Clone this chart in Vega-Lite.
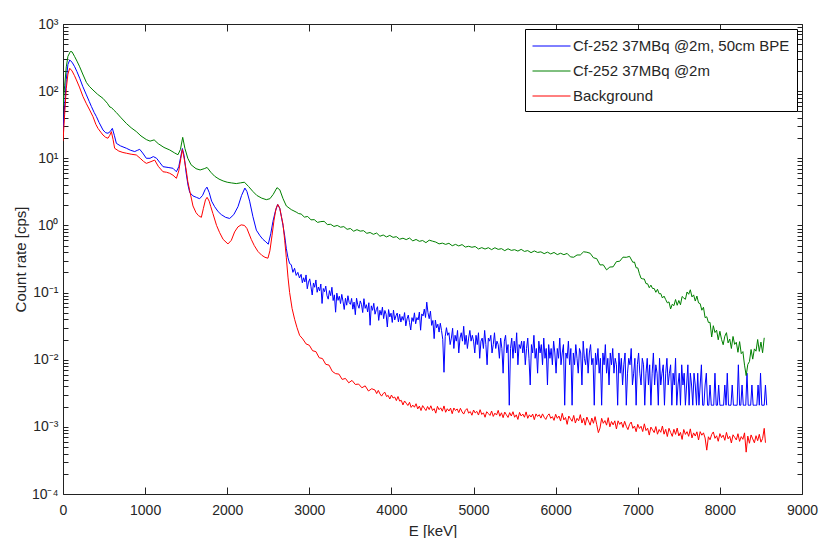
{
"$schema": "https://vega.github.io/schema/vega-lite/v6.json",
"width": 739, "height": 470,
"autosize": {"type": "none"},
"padding": {"left": 63, "top": 24, "right": 19, "bottom": 44},
"background": "white",
"config": {"view": {"stroke": null}, "font": "Liberation Sans"},
"datasets": {
"names": [{"k":"b","series":"Cf-252 37MBq @2m, 50cm BPE"},{"k":"g","series":"Cf-252 37MBq @2m"},{"k":"r","series":"Background"}],
"spec": [
{"k":"b","E":0,"v":25},{"k":"b","E":20,"v":60},{"k":"b","E":40,"v":150},{"k":"b","E":60,"v":250},{"k":"b","E":82,"v":291},{"k":"b","E":110,"v":270},{"k":"b","E":142,"v":231},{"k":"b","E":170,"v":195},{"k":"b","E":204,"v":155},{"k":"b","E":240,"v":118},{"k":"b","E":285,"v":88},{"k":"b","E":320,"v":70},{"k":"b","E":346,"v":59},{"k":"b","E":380,"v":48},{"k":"b","E":406,"v":42},{"k":"b","E":440,"v":34},{"k":"b","E":487,"v":26.4},{"k":"b","E":520,"v":24},{"k":"b","E":548,"v":23.6},{"k":"b","E":575,"v":25},{"k":"b","E":601,"v":27.9},{"k":"b","E":625,"v":22},{"k":"b","E":650,"v":16.7},{"k":"b","E":700,"v":15.3},{"k":"b","E":772,"v":14.1},{"k":"b","E":820,"v":13.2},{"k":"b","E":873,"v":12.6},{"k":"b","E":910,"v":13.2},{"k":"b","E":934,"v":13.6},{"k":"b","E":970,"v":12},{"k":"b","E":1015,"v":10},{"k":"b","E":1060,"v":10},{"k":"b","E":1100,"v":10.6},{"k":"b","E":1140,"v":10},{"k":"b","E":1180,"v":8.6},{"k":"b","E":1218,"v":7.5},{"k":"b","E":1280,"v":7.3},{"k":"b","E":1339,"v":7.1},{"k":"b","E":1381,"v":6.3},{"k":"b","E":1410,"v":7.5},{"k":"b","E":1430,"v":10},{"k":"b","E":1454,"v":14},{"k":"b","E":1475,"v":11},{"k":"b","E":1500,"v":6},{"k":"b","E":1522,"v":4.0},{"k":"b","E":1543,"v":3.1},{"k":"b","E":1583,"v":2.75},{"k":"b","E":1624,"v":2.62},{"k":"b","E":1664,"v":2.5},{"k":"b","E":1700,"v":2.8},{"k":"b","E":1730,"v":3.4},{"k":"b","E":1753,"v":3.72},{"k":"b","E":1780,"v":3.1},{"k":"b","E":1810,"v":2.3},{"k":"b","E":1847,"v":1.9},{"k":"b","E":1890,"v":1.6},{"k":"b","E":1928,"v":1.45},{"k":"b","E":1980,"v":1.32},{"k":"b","E":2030,"v":1.27},{"k":"b","E":2080,"v":1.45},{"k":"b","E":2131,"v":1.9},{"k":"b","E":2175,"v":2.8},{"k":"b","E":2215,"v":3.6},{"k":"b","E":2240,"v":3.2},{"k":"b","E":2273,"v":2.3},{"k":"b","E":2313,"v":1.35},{"k":"b","E":2355,"v":0.85},{"k":"b","E":2400,"v":0.7},{"k":"b","E":2435,"v":0.62},{"k":"b","E":2470,"v":0.57},{"k":"b","E":2500,"v":0.525},{"k":"b","E":2530,"v":0.75},{"k":"b","E":2557,"v":1.15},{"k":"b","E":2585,"v":1.6},{"k":"b","E":2614,"v":2.05},{"k":"b","E":2640,"v":1.8},{"k":"b","E":2660,"v":1.35},{"k":"b","E":2679,"v":1.0},{"k":"b","E":2700,"v":0.7},{"k":"b","E":2720,"v":0.45},{"k":"b","E":2740,"v":0.33},{"k":"b","E":2760,"v":0.27},{"k":"b","E":2780,"v":0.26},{"k":"b","E":2800,"v":0.2},{"k":"b","E":2820,"v":0.23},{"k":"b","E":2840,"v":0.18},{"k":"b","E":2860,"v":0.2},{"k":"b","E":2880,"v":0.165},
{"k":"b","E":2900,"v":0.187},{"k":"b","E":2915,"v":0.14},{"k":"b","E":2930,"v":0.166},{"k":"b","E":2945,"v":0.144},{"k":"b","E":2960,"v":0.183},{"k":"b","E":2975,"v":0.114},{"k":"b","E":2990,"v":0.143},{"k":"b","E":3005,"v":0.16},{"k":"b","E":3020,"v":0.122},{"k":"b","E":3035,"v":0.092},{"k":"b","E":3050,"v":0.139},{"k":"b","E":3065,"v":0.12},{"k":"b","E":3080,"v":0.154},{"k":"b","E":3095,"v":0.101},{"k":"b","E":3110,"v":0.121},{"k":"b","E":3125,"v":0.106},{"k":"b","E":3140,"v":0.134},{"k":"b","E":3155,"v":0.0688},{"k":"b","E":3170,"v":0.115},{"k":"b","E":3185,"v":0.103},{"k":"b","E":3200,"v":0.125},{"k":"b","E":3215,"v":0.0898},{"k":"b","E":3230,"v":0.0798},{"k":"b","E":3245,"v":0.107},{"k":"b","E":3260,"v":0.09},{"k":"b","E":3275,"v":0.12},{"k":"b","E":3290,"v":0.0761},{"k":"b","E":3305,"v":0.0925},{"k":"b","E":3320,"v":0.051},{"k":"b","E":3335,"v":0.0982},{"k":"b","E":3350,"v":0.0766},{"k":"b","E":3365,"v":0.0883},{"k":"b","E":3380,"v":0.0686},{"k":"b","E":3395,"v":0.094},{"k":"b","E":3410,"v":0.0743},{"k":"b","E":3425,"v":0.056},{"k":"b","E":3440,"v":0.0823},{"k":"b","E":3455,"v":0.0649},{"k":"b","E":3470,"v":0.0897},{"k":"b","E":3485,"v":0.071},{"k":"b","E":3500,"v":0.0668},{"k":"b","E":3515,"v":0.0818},{"k":"b","E":3530,"v":0.0566},{"k":"b","E":3545,"v":0.0722},{"k":"b","E":3560,"v":0.0468},{"k":"b","E":3575,"v":0.0825},{"k":"b","E":3590,"v":0.0656},{"k":"b","E":3605,"v":0.0584},{"k":"b","E":3620,"v":0.0751},{"k":"b","E":3635,"v":0.0667},{"k":"b","E":3650,"v":0.0504},{"k":"b","E":3665,"v":0.0811},{"k":"b","E":3680,"v":0.0582},{"k":"b","E":3695,"v":0.066},{"k":"b","E":3710,"v":0.0515},{"k":"b","E":3725,"v":0.0706},{"k":"b","E":3740,"v":0.0326},{"k":"b","E":3755,"v":0.0635},{"k":"b","E":3770,"v":0.0544},{"k":"b","E":3785,"v":0.0692},{"k":"b","E":3800,"v":0.0476},{"k":"b","E":3815,"v":0.0556},{"k":"b","E":3830,"v":0.0616},{"k":"b","E":3845,"v":0.0385},{"k":"b","E":3860,"v":0.0544},{"k":"b","E":3875,"v":0.0461},{"k":"b","E":3890,"v":0.0606},{"k":"b","E":3905,"v":0.0409},{"k":"b","E":3920,"v":0.0541},{"k":"b","E":3935,"v":0.0476},{"k":"b","E":3950,"v":0.0307},{"k":"b","E":3965,"v":0.0558},{"k":"b","E":3980,"v":0.0434},{"k":"b","E":3995,"v":0.0493},{"k":"b","E":4010,"v":0.0359},{"k":"b","E":4025,"v":0.0548},{"k":"b","E":4040,"v":0.0391},{"k":"b","E":4055,"v":0.0451},{"k":"b","E":4070,"v":0.0495},{"k":"b","E":4085,"v":0.0366},{"k":"b","E":4100,"v":0.0477},{"k":"b","E":4115,"v":0.0364},{"k":"b","E":4130,"v":0.044},{"k":"b","E":4145,"v":0.0387},{"k":"b","E":4160,"v":0.0503},{"k":"b","E":4175,"v":0.0319},{"k":"b","E":4190,"v":0.0405},{"k":"b","E":4205,"v":0.0462},{"k":"b","E":4220,"v":0.0358},{"k":"b","E":4235,"v":0.0277},{"k":"b","E":4250,"v":0.0423},{"k":"b","E":4265,"v":0.0371},{"k":"b","E":4280,"v":0.0499},{"k":"b","E":4295,"v":0.0343},{"k":"b","E":4310,"v":0.0424},{"k":"b","E":4325,"v":0.0391},{"k":"b","E":4340,"v":0.0512},{"k":"b","E":4355,"v":0.0275},{"k":"b","E":4370,"v":0.0481},{"k":"b","E":4385,"v":0.0449},{"k":"b","E":4400,"v":0.0568},{"k":"b","E":4415,"v":0.0426},{"k":"b","E":4430,"v":0.072},{"k":"b","E":4445,"v":0.0502},{"k":"b","E":4460,"v":0.0408},{"k":"b","E":4475,"v":0.0529},{"k":"b","E":4490,"v":0.0325},{"k":"b","E":4505,"v":0.0384},{"k":"b","E":4520,"v":0.0206},{"k":"b","E":4535,"v":0.0389},{"k":"b","E":4550,"v":0.0299},{"k":"b","E":4565,"v":0.0338},{"k":"b","E":4580,"v":0.0258},{"k":"b","E":4595,"v":0.0349},{"k":"b","E":4610,"v":0.0271},{"k":"b","E":4625,"v":0.0201},{"k":"b","E":4640,"v":0.0065},{"k":"b","E":4655,"v":0.0223},{"k":"b","E":4670,"v":0.03},{"k":"b","E":4685,"v":0.0231},
{"k":"b","E":4700,"v":0.0252},{"k":"b","E":4715,"v":0.0168},{"k":"b","E":4730,"v":0.021},{"k":"b","E":4745,"v":0.0294},{"k":"b","E":4760,"v":0.0147},{"k":"b","E":4775,"v":0.0231},{"k":"b","E":4790,"v":0.0189},{"k":"b","E":4805,"v":0.0273},{"k":"b","E":4820,"v":0.0126},{"k":"b","E":4835,"v":0.021},{"k":"b","E":4850,"v":0.0252},{"k":"b","E":4865,"v":0.0189},{"k":"b","E":4880,"v":0.0315},{"k":"b","E":4895,"v":0.0168},{"k":"b","E":4910,"v":0.0231},{"k":"b","E":4925,"v":0.0147},{"k":"b","E":4940,"v":0.021},{"k":"b","E":4955,"v":0.0273},{"k":"b","E":4970,"v":0.0189},{"k":"b","E":4985,"v":0.0231},
{"k":"b","E":5000,"v":0.0189},{"k":"b","E":5015,"v":0.0126},{"k":"b","E":5030,"v":0.0231},{"k":"b","E":5045,"v":0.0168},{"k":"b","E":5060,"v":0.0252},{"k":"b","E":5075,"v":0.0105},{"k":"b","E":5090,"v":0.0189},{"k":"b","E":5105,"v":0.021},{"k":"b","E":5120,"v":0.0147},{"k":"b","E":5135,"v":0.0273},{"k":"b","E":5150,"v":0.0168},{"k":"b","E":5165,"v":0.0084},{"k":"b","E":5180,"v":0.021},{"k":"b","E":5195,"v":0.0189},{"k":"b","E":5210,"v":0.0231},{"k":"b","E":5225,"v":0.0126},{"k":"b","E":5240,"v":0.0168},{"k":"b","E":5255,"v":0.0252},{"k":"b","E":5270,"v":0.0147},{"k":"b","E":5285,"v":0.0189},
{"k":"b","E":5300,"v":0.0168},{"k":"b","E":5315,"v":0.0105},{"k":"b","E":5330,"v":0.021},{"k":"b","E":5345,"v":0.0147},{"k":"b","E":5360,"v":0.0063},{"k":"b","E":5375,"v":0.0189},{"k":"b","E":5390,"v":0.0231},{"k":"b","E":5405,"v":0.0126},{"k":"b","E":5420,"v":0.0168},{"k":"b","E":5435,"v":0.0021},{"k":"b","E":5450,"v":0.0147},{"k":"b","E":5465,"v":0.021},{"k":"b","E":5480,"v":0.0105},{"k":"b","E":5495,"v":0.0189},{"k":"b","E":5510,"v":0.0126},{"k":"b","E":5525,"v":0.0252},{"k":"b","E":5540,"v":0.0084},{"k":"b","E":5555,"v":0.0168},{"k":"b","E":5570,"v":0.0147},{"k":"b","E":5585,"v":0.0189},
{"k":"b","E":5600,"v":0.0126},{"k":"b","E":5615,"v":0.0189},{"k":"b","E":5630,"v":0.0084},{"k":"b","E":5645,"v":0.0147},{"k":"b","E":5660,"v":0.021},{"k":"b","E":5675,"v":0.0105},{"k":"b","E":5690,"v":0.0042},{"k":"b","E":5705,"v":0.0168},{"k":"b","E":5720,"v":0.0126},{"k":"b","E":5735,"v":0.0231},{"k":"b","E":5750,"v":0.0105},{"k":"b","E":5765,"v":0.0147},{"k":"b","E":5780,"v":0.0063},{"k":"b","E":5795,"v":0.0189},{"k":"b","E":5810,"v":0.0126},{"k":"b","E":5825,"v":0.0168},{"k":"b","E":5840,"v":0.0084},{"k":"b","E":5855,"v":0.021},{"k":"b","E":5870,"v":0.0105},{"k":"b","E":5885,"v":0.0147},
{"k":"b","E":5900,"v":0.0042},{"k":"b","E":5915,"v":0.0168},{"k":"b","E":5930,"v":0.0105},{"k":"b","E":5945,"v":0.0147},{"k":"b","E":5960,"v":0.0084},{"k":"b","E":5975,"v":0.0189},{"k":"b","E":5990,"v":0.0126},{"k":"b","E":6005,"v":0.0063},{"k":"b","E":6020,"v":0.0147},{"k":"b","E":6035,"v":0.0105},{"k":"b","E":6050,"v":0.021},{"k":"b","E":6065,"v":0.0084},{"k":"b","E":6080,"v":0.0126},{"k":"b","E":6095,"v":0.0168},{"k":"b","E":6110,"v":0.0021},{"k":"b","E":6125,"v":0.0126},{"k":"b","E":6140,"v":0.0105},{"k":"b","E":6155,"v":0.0189},{"k":"b","E":6170,"v":0.0084},{"k":"b","E":6185,"v":0.0147},
{"k":"b","E":6200,"v":0.0021},{"k":"b","E":6215,"v":0.0126},{"k":"b","E":6230,"v":0.0084},{"k":"b","E":6245,"v":0.0168},{"k":"b","E":6260,"v":0.0105},{"k":"b","E":6275,"v":0.0063},{"k":"b","E":6290,"v":0.0147},{"k":"b","E":6305,"v":0.0126},{"k":"b","E":6320,"v":0.0042},{"k":"b","E":6335,"v":0.0189},{"k":"b","E":6350,"v":0.0105},{"k":"b","E":6365,"v":0.0084},{"k":"b","E":6380,"v":0.0147},{"k":"b","E":6395,"v":0.0063},{"k":"b","E":6410,"v":0.0126},{"k":"b","E":6425,"v":0.0168},{"k":"b","E":6440,"v":0.0084},{"k":"b","E":6455,"v":0.0105},{"k":"b","E":6470,"v":0.0021},{"k":"b","E":6485,"v":0.0126},
{"k":"b","E":6500,"v":0.0084},{"k":"b","E":6515,"v":0.0147},{"k":"b","E":6530,"v":0.0063},{"k":"b","E":6545,"v":0.0105},{"k":"b","E":6560,"v":0.0021},{"k":"b","E":6575,"v":0.0126},{"k":"b","E":6590,"v":0.0084},{"k":"b","E":6605,"v":0.0168},{"k":"b","E":6620,"v":0.0063},{"k":"b","E":6635,"v":0.0105},{"k":"b","E":6650,"v":0.0042},{"k":"b","E":6665,"v":0.0126},{"k":"b","E":6680,"v":0.0084},{"k":"b","E":6695,"v":0.0147},{"k":"b","E":6710,"v":0.0063},{"k":"b","E":6725,"v":0.0105},{"k":"b","E":6740,"v":0.0084},{"k":"b","E":6755,"v":0.0021},{"k":"b","E":6770,"v":0.0126},{"k":"b","E":6785,"v":0.0063},
{"k":"b","E":6800,"v":0.0105},{"k":"b","E":6815,"v":0.0042},{"k":"b","E":6830,"v":0.0084},{"k":"b","E":6845,"v":0.0126},{"k":"b","E":6860,"v":0.0021},{"k":"b","E":6875,"v":0.0063},{"k":"b","E":6890,"v":0.0105},{"k":"b","E":6905,"v":0.0084},{"k":"b","E":6920,"v":0.0147},{"k":"b","E":6935,"v":0.0042},{"k":"b","E":6950,"v":0.0063},{"k":"b","E":6965,"v":0.0105},{"k":"b","E":6980,"v":0.0021},{"k":"b","E":6995,"v":0.0084},{"k":"b","E":7010,"v":0.0126},{"k":"b","E":7025,"v":0.0063},{"k":"b","E":7040,"v":0.0042},{"k":"b","E":7055,"v":0.0105},{"k":"b","E":7070,"v":0.0084},{"k":"b","E":7085,"v":0.0021},
{"k":"b","E":7100,"v":0.0063},{"k":"b","E":7115,"v":0.0105},{"k":"b","E":7130,"v":0.0042},{"k":"b","E":7145,"v":0.0084},{"k":"b","E":7160,"v":0.0021},{"k":"b","E":7175,"v":0.0063},{"k":"b","E":7190,"v":0.0126},{"k":"b","E":7205,"v":0.0042},{"k":"b","E":7220,"v":0.0084},{"k":"b","E":7235,"v":0.0063},{"k":"b","E":7250,"v":0.0021},{"k":"b","E":7265,"v":0.0105},{"k":"b","E":7280,"v":0.0042},{"k":"b","E":7295,"v":0.0063},{"k":"b","E":7310,"v":0.0084},{"k":"b","E":7325,"v":0.0021},{"k":"b","E":7340,"v":0.0063},{"k":"b","E":7355,"v":0.0105},{"k":"b","E":7370,"v":0.0042},{"k":"b","E":7385,"v":0.0063},
{"k":"b","E":7400,"v":0.0084},{"k":"b","E":7415,"v":0.0021},{"k":"b","E":7430,"v":0.0063},{"k":"b","E":7445,"v":0.0042},{"k":"b","E":7460,"v":0.0105},{"k":"b","E":7475,"v":0.0021},{"k":"b","E":7490,"v":0.0042},{"k":"b","E":7505,"v":0.0063},{"k":"b","E":7520,"v":0.0021},{"k":"b","E":7535,"v":0.0084},{"k":"b","E":7550,"v":0.0042},{"k":"b","E":7565,"v":0.0063},{"k":"b","E":7580,"v":0.0021},{"k":"b","E":7595,"v":0.0042},{"k":"b","E":7610,"v":0.0084},{"k":"b","E":7625,"v":0.0021},{"k":"b","E":7640,"v":0.0063},{"k":"b","E":7655,"v":0.0042},{"k":"b","E":7670,"v":0.0021},{"k":"b","E":7685,"v":0.0063},
{"k":"b","E":7700,"v":0.0042},{"k":"b","E":7715,"v":0.0021},{"k":"b","E":7730,"v":0.0063},{"k":"b","E":7745,"v":0.0021},{"k":"b","E":7760,"v":0.0042},{"k":"b","E":7775,"v":0.0084},{"k":"b","E":7790,"v":0.0021},{"k":"b","E":7805,"v":0.0021},{"k":"b","E":7820,"v":0.0042},{"k":"b","E":7835,"v":0.0063},
{"k":"b","E":7850,"v":0.0021},{"k":"b","E":7865,"v":0.0021},{"k":"b","E":7880,"v":0.0042},{"k":"b","E":7895,"v":0.0021},{"k":"b","E":7910,"v":0.0021},{"k":"b","E":7925,"v":0.0021},{"k":"b","E":7940,"v":0.0063},{"k":"b","E":7955,"v":0.0021},{"k":"b","E":7970,"v":0.0021},{"k":"b","E":7985,"v":0.0042},{"k":"b","E":8000,"v":0.0021},{"k":"b","E":8015,"v":0.0021},{"k":"b","E":8030,"v":0.0021},{"k":"b","E":8045,"v":0.0021},{"k":"b","E":8060,"v":0.0042},{"k":"b","E":8075,"v":0.0021},{"k":"b","E":8090,"v":0.0063},{"k":"b","E":8105,"v":0.0021},{"k":"b","E":8120,"v":0.0021},{"k":"b","E":8135,"v":0.0021},{"k":"b","E":8150,"v":0.0042},{"k":"b","E":8165,"v":0.0021},{"k":"b","E":8180,"v":0.0021},{"k":"b","E":8195,"v":0.0021},{"k":"b","E":8210,"v":0.0021},{"k":"b","E":8225,"v":0.0084},{"k":"b","E":8240,"v":0.0021},{"k":"b","E":8255,"v":0.0021},{"k":"b","E":8270,"v":0.0042},{"k":"b","E":8285,"v":0.0021},{"k":"b","E":8300,"v":0.0021},{"k":"b","E":8315,"v":0.0021},{"k":"b","E":8330,"v":0.0063},{"k":"b","E":8345,"v":0.0021},{"k":"b","E":8360,"v":0.0021},{"k":"b","E":8375,"v":0.0021},{"k":"b","E":8390,"v":0.0042},{"k":"b","E":8405,"v":0.0021},{"k":"b","E":8420,"v":0.0021},{"k":"b","E":8435,"v":0.0021},{"k":"b","E":8450,"v":0.0021},{"k":"b","E":8465,"v":0.0042},{"k":"b","E":8480,"v":0.0021},{"k":"b","E":8495,"v":0.0063},{"k":"b","E":8510,"v":0.0021},{"k":"b","E":8525,"v":0.0021},{"k":"b","E":8540,"v":0.0021},{"k":"b","E":8555,"v":0.0042},{"k":"b","E":8570,"v":0.0021},
{"k":"g","E":0,"v":60},{"k":"g","E":20,"v":120},{"k":"g","E":40,"v":230},{"k":"g","E":60,"v":330},{"k":"g","E":90,"v":390},{"k":"g","E":110,"v":385},{"k":"g","E":140,"v":330},{"k":"g","E":170,"v":280},{"k":"g","E":200,"v":235},{"k":"g","E":240,"v":180},{"k":"g","E":285,"v":135},{"k":"g","E":320,"v":118},{"k":"g","E":365,"v":104},{"k":"g","E":420,"v":90},{"k":"g","E":487,"v":78},{"k":"g","E":540,"v":66},{"k":"g","E":570,"v":58},{"k":"g","E":590,"v":57},{"k":"g","E":620,"v":52},{"k":"g","E":650,"v":48},{"k":"g","E":700,"v":41},{"k":"g","E":772,"v":33},{"k":"g","E":830,"v":28.5},{"k":"g","E":893,"v":25},{"k":"g","E":950,"v":21.5},{"k":"g","E":1015,"v":19},{"k":"g","E":1060,"v":18},{"k":"g","E":1110,"v":18.8},{"k":"g","E":1160,"v":16.5},{"k":"g","E":1230,"v":14.5},{"k":"g","E":1300,"v":13.3},{"k":"g","E":1360,"v":12},{"k":"g","E":1400,"v":11.3},{"k":"g","E":1430,"v":13.5},{"k":"g","E":1458,"v":20.5},{"k":"g","E":1485,"v":14},{"k":"g","E":1520,"v":10},{"k":"g","E":1560,"v":8},{"k":"g","E":1620,"v":7.0},{"k":"g","E":1670,"v":6.7},{"k":"g","E":1720,"v":7.0},{"k":"g","E":1755,"v":7.3},{"k":"g","E":1800,"v":6.2},{"k":"g","E":1847,"v":5.4},{"k":"g","E":1900,"v":4.9},{"k":"g","E":1950,"v":4.6},{"k":"g","E":2000,"v":4.4},{"k":"g","E":2050,"v":4.3},{"k":"g","E":2110,"v":4.2},{"k":"g","E":2160,"v":4.3},{"k":"g","E":2210,"v":4.4},{"k":"g","E":2260,"v":3.8},{"k":"g","E":2313,"v":3.2},{"k":"g","E":2360,"v":2.8},{"k":"g","E":2420,"v":2.55},{"k":"g","E":2476,"v":2.42},{"k":"g","E":2520,"v":2.5},{"k":"g","E":2560,"v":2.9},{"k":"g","E":2606,"v":3.65},{"k":"g","E":2640,"v":3.4},{"k":"g","E":2680,"v":2.5},{"k":"g","E":2720,"v":1.95},{"k":"g","E":2780,"v":1.72},{"k":"g","E":2840,"v":1.58},{"k":"g","E":2870,"v":1.5},
{"k":"g","E":2900,"v":1.48},{"k":"g","E":2940,"v":1.33},{"k":"g","E":2980,"v":1.36},{"k":"g","E":3020,"v":1.21},{"k":"g","E":3060,"v":1.22},{"k":"g","E":3100,"v":1.11},{"k":"g","E":3140,"v":1.14},{"k":"g","E":3180,"v":1.15},{"k":"g","E":3220,"v":1.03},{"k":"g","E":3260,"v":1.04},{"k":"g","E":3300,"v":0.965},{"k":"g","E":3340,"v":1.0},{"k":"g","E":3380,"v":0.94},{"k":"g","E":3420,"v":0.96},{"k":"g","E":3460,"v":0.875},{"k":"g","E":3500,"v":0.9},{"k":"g","E":3540,"v":0.82},{"k":"g","E":3580,"v":0.865},{"k":"g","E":3620,"v":0.822},{"k":"g","E":3660,"v":0.835},{"k":"g","E":3700,"v":0.763},{"k":"g","E":3740,"v":0.785},{"k":"g","E":3780,"v":0.737},{"k":"g","E":3820,"v":0.77},{"k":"g","E":3860,"v":0.69},{"k":"g","E":3900,"v":0.72},{"k":"g","E":3940,"v":0.674},{"k":"g","E":3980,"v":0.71},{"k":"g","E":4020,"v":0.664},{"k":"g","E":4060,"v":0.68},{"k":"g","E":4100,"v":0.623},{"k":"g","E":4140,"v":0.645},{"k":"g","E":4180,"v":0.615},{"k":"g","E":4220,"v":0.649},{"k":"g","E":4260,"v":0.589},{"k":"g","E":4300,"v":0.618},{"k":"g","E":4340,"v":0.58},{"k":"g","E":4380,"v":0.596},{"k":"g","E":4420,"v":0.554},{"k":"g","E":4460,"v":0.603},{"k":"g","E":4500,"v":0.583},{"k":"g","E":4540,"v":0.565},{"k":"g","E":4580,"v":0.531},{"k":"g","E":4620,"v":0.545},{"k":"g","E":4660,"v":0.522},{"k":"g","E":4700,"v":0.542},{"k":"g","E":4740,"v":0.498},{"k":"g","E":4780,"v":0.522},{"k":"g","E":4820,"v":0.495},{"k":"g","E":4860,"v":0.518},{"k":"g","E":4900,"v":0.476},{"k":"g","E":4940,"v":0.489},{"k":"g","E":4980,"v":0.473},{"k":"g","E":5020,"v":0.485},{"k":"g","E":5060,"v":0.446},{"k":"g","E":5100,"v":0.467},{"k":"g","E":5140,"v":0.445},{"k":"g","E":5180,"v":0.466},{"k":"g","E":5220,"v":0.436},{"k":"g","E":5260,"v":0.465},{"k":"g","E":5300,"v":0.44},{"k":"g","E":5340,"v":0.451},{"k":"g","E":5380,"v":0.421},{"k":"g","E":5420,"v":0.449},{"k":"g","E":5460,"v":0.425},{"k":"g","E":5500,"v":0.435},{"k":"g","E":5540,"v":0.415},{"k":"g","E":5580,"v":0.44},{"k":"g","E":5620,"v":0.41},{"k":"g","E":5660,"v":0.422},{"k":"g","E":5700,"v":0.393},{"k":"g","E":5740,"v":0.417},{"k":"g","E":5780,"v":0.396},{"k":"g","E":5820,"v":0.404},{"k":"g","E":5860,"v":0.38},{"k":"g","E":5900,"v":0.4},{"k":"g","E":5940,"v":0.376},{"k":"g","E":5980,"v":0.396},{"k":"g","E":6020,"v":0.368},{"k":"g","E":6060,"v":0.385},{"k":"g","E":6100,"v":0.367},{"k":"g","E":6140,"v":0.383},{"k":"g","E":6180,"v":0.34},{"k":"g","E":6220,"v":0.336},{"k":"g","E":6260,"v":0.363},{"k":"g","E":6300,"v":0.363},{"k":"g","E":6340,"v":0.405},{"k":"g","E":6380,"v":0.399},{"k":"g","E":6420,"v":0.385},{"k":"g","E":6460,"v":0.33},{"k":"g","E":6500,"v":0.32},{"k":"g","E":6540,"v":0.258},{"k":"g","E":6580,"v":0.259},{"k":"g","E":6620,"v":0.218},{"k":"g","E":6660,"v":0.24},{"k":"g","E":6700,"v":0.242},{"k":"g","E":6740,"v":0.289},{"k":"g","E":6780,"v":0.293},{"k":"g","E":6820,"v":0.337},{"k":"g","E":6860,"v":0.335},{"k":"g","E":6900,"v":0.346},{"k":"g","E":6940,"v":0.282},
{"k":"g","E":6960,"v":0.285},{"k":"g","E":6980,"v":0.234},{"k":"g","E":7000,"v":0.233},{"k":"g","E":7020,"v":0.191},{"k":"g","E":7040,"v":0.163},{"k":"g","E":7060,"v":0.16},{"k":"g","E":7080,"v":0.159},{"k":"g","E":7100,"v":0.136},{"k":"g","E":7120,"v":0.135},{"k":"g","E":7140,"v":0.118},{"k":"g","E":7160,"v":0.129},{"k":"g","E":7180,"v":0.115},{"k":"g","E":7200,"v":0.115},{"k":"g","E":7220,"v":0.101},{"k":"g","E":7240,"v":0.112},{"k":"g","E":7260,"v":0.0961},{"k":"g","E":7280,"v":0.0965},{"k":"g","E":7300,"v":0.083},{"k":"g","E":7320,"v":0.0885},{"k":"g","E":7340,"v":0.0787},{"k":"g","E":7360,"v":0.0702},{"k":"g","E":7380,"v":0.0727},{"k":"g","E":7400,"v":0.057},{"k":"g","E":7420,"v":0.067},{"k":"g","E":7440,"v":0.0638},{"k":"g","E":7460,"v":0.0788},{"k":"g","E":7480,"v":0.0647},{"k":"g","E":7500,"v":0.0762},{"k":"g","E":7520,"v":0.0658},{"k":"g","E":7540,"v":0.0875},{"k":"g","E":7560,"v":0.083},{"k":"g","E":7580,"v":0.0793},{"k":"g","E":7600,"v":0.102},{"k":"g","E":7620,"v":0.0944},{"k":"g","E":7640,"v":0.11},{"k":"g","E":7660,"v":0.0861},{"k":"g","E":7680,"v":0.0924},{"k":"g","E":7700,"v":0.0748},{"k":"g","E":7720,"v":0.0887},{"k":"g","E":7740,"v":0.0701},{"k":"g","E":7760,"v":0.0684},{"k":"g","E":7780,"v":0.0546},{"k":"g","E":7800,"v":0.0604},{"k":"g","E":7820,"v":0.0423},{"k":"g","E":7840,"v":0.0436},{"k":"g","E":7860,"v":0.0359},{"k":"g","E":7880,"v":0.036},{"k":"g","E":7900,"v":0.0218},{"k":"g","E":7920,"v":0.0321},{"k":"g","E":7940,"v":0.0254},{"k":"g","E":7960,"v":0.0275},{"k":"g","E":7980,"v":0.0198},{"k":"g","E":8000,"v":0.0265},{"k":"g","E":8020,"v":0.0201},{"k":"g","E":8040,"v":0.0167},{"k":"g","E":8060,"v":0.0224},{"k":"g","E":8080,"v":0.0253},{"k":"g","E":8100,"v":0.0178},{"k":"g","E":8120,"v":0.0203},{"k":"g","E":8140,"v":0.0147},{"k":"g","E":8160,"v":0.0222},{"k":"g","E":8180,"v":0.0169},{"k":"g","E":8200,"v":0.0182},{"k":"g","E":8220,"v":0.0129},{"k":"g","E":8240,"v":0.0186},{"k":"g","E":8260,"v":0.0123},{"k":"g","E":8280,"v":0.0132},{"k":"g","E":8300,"v":0.0083},{"k":"g","E":8320,"v":0.0058},{"k":"g","E":8340,"v":0.0085},{"k":"g","E":8360,"v":0.0094},{"k":"g","E":8380,"v":0.0142},{"k":"g","E":8400,"v":0.0102},{"k":"g","E":8420,"v":0.0145},{"k":"g","E":8440,"v":0.0134},{"k":"g","E":8460,"v":0.02},{"k":"g","E":8480,"v":0.0133},{"k":"g","E":8500,"v":0.0183},{"k":"g","E":8520,"v":0.0127},{"k":"g","E":8540,"v":0.0212},
{"k":"r","E":0,"v":18},{"k":"r","E":20,"v":45},{"k":"r","E":40,"v":110},{"k":"r","E":60,"v":180},{"k":"r","E":82,"v":219},{"k":"r","E":110,"v":200},{"k":"r","E":140,"v":170},{"k":"r","E":163,"v":147},{"k":"r","E":200,"v":115},{"k":"r","E":244,"v":82.7},{"k":"r","E":285,"v":65},{"k":"r","E":325,"v":52.4},{"k":"r","E":365,"v":41.7},{"k":"r","E":400,"v":32},{"k":"r","E":426,"v":27.9},{"k":"r","E":460,"v":24.5},{"k":"r","E":487,"v":22.2},{"k":"r","E":520,"v":20.5},{"k":"r","E":548,"v":19.9},{"k":"r","E":570,"v":22},{"k":"r","E":589,"v":24.9},{"k":"r","E":610,"v":19},{"k":"r","E":629,"v":14.1},{"k":"r","E":680,"v":12.8},{"k":"r","E":730,"v":12.2},{"k":"r","E":772,"v":11.9},{"k":"r","E":830,"v":11.5},{"k":"r","E":893,"v":11.2},{"k":"r","E":940,"v":10},{"k":"r","E":980,"v":9},{"k":"r","E":1015,"v":8.4},{"k":"r","E":1060,"v":8.8},{"k":"r","E":1117,"v":9.4},{"k":"r","E":1160,"v":7.6},{"k":"r","E":1218,"v":6.3},{"k":"r","E":1260,"v":6.2},{"k":"r","E":1299,"v":5.98},{"k":"r","E":1340,"v":5.6},{"k":"r","E":1381,"v":5.03},{"k":"r","E":1410,"v":6.5},{"k":"r","E":1435,"v":10},{"k":"r","E":1454,"v":13.5},{"k":"r","E":1475,"v":10},{"k":"r","E":1502,"v":6.5},{"k":"r","E":1520,"v":4.5},{"k":"r","E":1543,"v":3.3},{"k":"r","E":1583,"v":1.95},{"k":"r","E":1620,"v":1.55},{"k":"r","E":1650,"v":1.4},{"k":"r","E":1685,"v":1.32},{"k":"r","E":1710,"v":1.8},{"k":"r","E":1735,"v":2.4},{"k":"r","E":1755,"v":2.62},{"k":"r","E":1780,"v":2.3},{"k":"r","E":1800,"v":1.9},{"k":"r","E":1826,"v":1.5},{"k":"r","E":1870,"v":1.0},{"k":"r","E":1908,"v":0.78},{"k":"r","E":1950,"v":0.62},{"k":"r","E":2009,"v":0.53},{"k":"r","E":2050,"v":0.6},{"k":"r","E":2090,"v":0.8},{"k":"r","E":2130,"v":0.95},{"k":"r","E":2170,"v":1.02},{"k":"r","E":2210,"v":1.0},{"k":"r","E":2240,"v":0.9},{"k":"r","E":2293,"v":0.62},{"k":"r","E":2330,"v":0.5},{"k":"r","E":2374,"v":0.41},{"k":"r","E":2420,"v":0.36},{"k":"r","E":2460,"v":0.335},{"k":"r","E":2496,"v":0.325},{"k":"r","E":2520,"v":0.42},{"k":"r","E":2545,"v":0.7},{"k":"r","E":2570,"v":1.2},{"k":"r","E":2595,"v":1.8},{"k":"r","E":2616,"v":2.05},{"k":"r","E":2640,"v":1.8},{"k":"r","E":2660,"v":1.35},{"k":"r","E":2679,"v":1.05},{"k":"r","E":2700,"v":0.6},{"k":"r","E":2720,"v":0.33},{"k":"r","E":2740,"v":0.17},{"k":"r","E":2760,"v":0.1},{"k":"r","E":2790,"v":0.058},{"k":"r","E":2821,"v":0.04},{"k":"r","E":2850,"v":0.03},{"k":"r","E":2882,"v":0.023},
{"k":"r","E":2920,"v":0.0204},{"k":"r","E":2960,"v":0.0172},{"k":"r","E":3000,"v":0.0164},{"k":"r","E":3040,"v":0.0136},{"k":"r","E":3080,"v":0.0132},{"k":"r","E":3120,"v":0.0107},{"k":"r","E":3160,"v":0.0104},{"k":"r","E":3200,"v":0.00854},{"k":"r","E":3240,"v":0.00831},{"k":"r","E":3280,"v":0.00669},{"k":"r","E":3320,"v":0.0062},{"k":"r","E":3360,"v":0.00611},{"k":"r","E":3400,"v":0.00509},{"k":"r","E":3440,"v":0.00526},{"k":"r","E":3480,"v":0.00453},{"k":"r","E":3520,"v":0.00492},{"k":"r","E":3560,"v":0.00428},{"k":"r","E":3600,"v":0.00434},{"k":"r","E":3640,"v":0.00382},{"k":"r","E":3680,"v":0.00408},{"k":"r","E":3720,"v":0.00342},{"k":"r","E":3760,"v":0.0037},
{"k":"r","E":3800,"v":0.00353},{"k":"r","E":3820,"v":0.00313},{"k":"r","E":3840,"v":0.00349},{"k":"r","E":3860,"v":0.0031},{"k":"r","E":3880,"v":0.00287},{"k":"r","E":3900,"v":0.00314},{"k":"r","E":3920,"v":0.00327},{"k":"r","E":3940,"v":0.00283},{"k":"r","E":3960,"v":0.00294},{"k":"r","E":3980,"v":0.0026},{"k":"r","E":4000,"v":0.00298},{"k":"r","E":4020,"v":0.00269},{"k":"r","E":4040,"v":0.00278},{"k":"r","E":4060,"v":0.00246},{"k":"r","E":4080,"v":0.00283},{"k":"r","E":4100,"v":0.00242},{"k":"r","E":4120,"v":0.00248},{"k":"r","E":4140,"v":0.00212},{"k":"r","E":4160,"v":0.00243},{"k":"r","E":4180,"v":0.00225},{"k":"r","E":4200,"v":0.00208},{"k":"r","E":4220,"v":0.00232},{"k":"r","E":4240,"v":0.00195},{"k":"r","E":4260,"v":0.00211},{"k":"r","E":4280,"v":0.00196},{"k":"r","E":4300,"v":0.00221},{"k":"r","E":4320,"v":0.00185},{"k":"r","E":4340,"v":0.00204},{"k":"r","E":4360,"v":0.00175},{"k":"r","E":4380,"v":0.00207},{"k":"r","E":4400,"v":0.0019},{"k":"r","E":4420,"v":0.00175},{"k":"r","E":4440,"v":0.00201},{"k":"r","E":4460,"v":0.00181},{"k":"r","E":4480,"v":0.00206},{"k":"r","E":4500,"v":0.00175},{"k":"r","E":4520,"v":0.00187},{"k":"r","E":4540,"v":0.0016},{"k":"r","E":4560,"v":0.00202},{"k":"r","E":4580,"v":0.0018},{"k":"r","E":4600,"v":0.00192},{"k":"r","E":4620,"v":0.00171},{"k":"r","E":4640,"v":0.00205},{"k":"r","E":4660,"v":0.00165},{"k":"r","E":4680,"v":0.00186},{"k":"r","E":4700,"v":0.00172},{"k":"r","E":4720,"v":0.0019},{"k":"r","E":4740,"v":0.00157},{"k":"r","E":4760,"v":0.00191},{"k":"r","E":4780,"v":0.00175},{"k":"r","E":4800,"v":0.00185},{"k":"r","E":4820,"v":0.00163},{"k":"r","E":4840,"v":0.00189},{"k":"r","E":4860,"v":0.00167},{"k":"r","E":4880,"v":0.00155},{"k":"r","E":4900,"v":0.00176},{"k":"r","E":4920,"v":0.00187},{"k":"r","E":4940,"v":0.0016},{"k":"r","E":4960,"v":0.00169},{"k":"r","E":4980,"v":0.00149},{"k":"r","E":5000,"v":0.00178},{"k":"r","E":5020,"v":0.00161},{"k":"r","E":5040,"v":0.0017},{"k":"r","E":5060,"v":0.0015},{"k":"r","E":5080,"v":0.0018},{"k":"r","E":5100,"v":0.00153},{"k":"r","E":5120,"v":0.00162},{"k":"r","E":5140,"v":0.00139},{"k":"r","E":5160,"v":0.00168},{"k":"r","E":5180,"v":0.00158},{"k":"r","E":5200,"v":0.00148},{"k":"r","E":5220,"v":0.00172},{"k":"r","E":5240,"v":0.00143},{"k":"r","E":5260,"v":0.0016},{"k":"r","E":5280,"v":0.0015},{"k":"r","E":5300,"v":0.00176},{"k":"r","E":5320,"v":0.00144},{"k":"r","E":5340,"v":0.00162},{"k":"r","E":5360,"v":0.00137},{"k":"r","E":5380,"v":0.00166},{"k":"r","E":5400,"v":0.00151},{"k":"r","E":5420,"v":0.00138},{"k":"r","E":5440,"v":0.00163},{"k":"r","E":5460,"v":0.00145},{"k":"r","E":5480,"v":0.00168},{"k":"r","E":5500,"v":0.00139},{"k":"r","E":5520,"v":0.00151},{"k":"r","E":5540,"v":0.00129},{"k":"r","E":5560,"v":0.00164},{"k":"r","E":5580,"v":0.00145},{"k":"r","E":5600,"v":0.00155},{"k":"r","E":5620,"v":0.00139},{"k":"r","E":5640,"v":0.00167},{"k":"r","E":5660,"v":0.00134},{"k":"r","E":5680,"v":0.00151},{"k":"r","E":5700,"v":0.0014},{"k":"r","E":5720,"v":0.00155},{"k":"r","E":5740,"v":0.00128},{"k":"r","E":5760,"v":0.00156},{"k":"r","E":5780,"v":0.00143},{"k":"r","E":5800,"v":0.00152},{"k":"r","E":5820,"v":0.00135},{"k":"r","E":5840,"v":0.00156},{"k":"r","E":5860,"v":0.00139},{"k":"r","E":5880,"v":0.00129},{"k":"r","E":5900,"v":0.00147},{"k":"r","E":5920,"v":0.00156},{"k":"r","E":5940,"v":0.00134},{"k":"r","E":5960,"v":0.00142},{"k":"r","E":5980,"v":0.00125},{"k":"r","E":6000,"v":0.00154},{"k":"r","E":6020,"v":0.00134},{"k":"r","E":6040,"v":0.00145},{"k":"r","E":6060,"v":0.00122},{"k":"r","E":6080,"v":0.00159},{"k":"r","E":6100,"v":0.00127},{"k":"r","E":6120,"v":0.00138},{"k":"r","E":6140,"v":0.00109},{"k":"r","E":6160,"v":0.00145},{"k":"r","E":6180,"v":0.00132},{"k":"r","E":6200,"v":0.00121},{"k":"r","E":6220,"v":0.00148},{"k":"r","E":6240,"v":0.00114},{"k":"r","E":6260,"v":0.00134},{"k":"r","E":6280,"v":0.00123},{"k":"r","E":6300,"v":0.00152},{"k":"r","E":6320,"v":0.00114},{"k":"r","E":6340,"v":0.00135},{"k":"r","E":6360,"v":0.00106},{"k":"r","E":6380,"v":0.0014},{"k":"r","E":6400,"v":0.00122},{"k":"r","E":6420,"v":0.00106},{"k":"r","E":6440,"v":0.00135},{"k":"r","E":6460,"v":0.00113},{"k":"r","E":6480,"v":0.00142},{"k":"r","E":6500,"v":0.00108},{"k":"r","E":6520,"v":0.00082},{"k":"r","E":6540,"v":0.00096},{"k":"r","E":6560,"v":0.00134},{"k":"r","E":6580,"v":0.00113},{"k":"r","E":6600,"v":0.00124},{"k":"r","E":6620,"v":0.00106},{"k":"r","E":6640,"v":0.00137},{"k":"r","E":6660,"v":0.001},{"k":"r","E":6680,"v":0.0012},{"k":"r","E":6700,"v":0.00107},{"k":"r","E":6720,"v":0.00123},{"k":"r","E":6740,"v":0.00093},{"k":"r","E":6760,"v":0.00123},{"k":"r","E":6780,"v":0.00109},{"k":"r","E":6800,"v":0.00118},{"k":"r","E":6820,"v":0.00098},{"k":"r","E":6840,"v":0.00121},{"k":"r","E":6860,"v":0.00102},{"k":"r","E":6880,"v":0.00091},{"k":"r","E":6900,"v":0.00109},{"k":"r","E":6920,"v":0.00118},{"k":"r","E":6940,"v":0.00095},{"k":"r","E":6960,"v":0.00103},{"k":"r","E":6980,"v":0.000847},{"k":"r","E":7000,"v":0.00109},{"k":"r","E":7020,"v":0.000947},{"k":"r","E":7040,"v":0.00102},{"k":"r","E":7060,"v":0.000851},{"k":"r","E":7080,"v":0.00111},{"k":"r","E":7100,"v":0.000881},{"k":"r","E":7120,"v":0.000956},{"k":"r","E":7140,"v":0.000754},{"k":"r","E":7160,"v":0.000992},{"k":"r","E":7180,"v":0.000901},{"k":"r","E":7200,"v":0.000822},{"k":"r","E":7220,"v":0.00101},{"k":"r","E":7240,"v":0.000777},{"k":"r","E":7260,"v":0.000914},{"k":"r","E":7280,"v":0.00083},{"k":"r","E":7300,"v":0.00103},{"k":"r","E":7320,"v":0.000778},{"k":"r","E":7340,"v":0.000919},{"k":"r","E":7360,"v":0.000718},{"k":"r","E":7380,"v":0.000952},{"k":"r","E":7400,"v":0.000828},{"k":"r","E":7420,"v":0.000722},{"k":"r","E":7440,"v":0.00092},{"k":"r","E":7460,"v":0.000773},{"k":"r","E":7480,"v":0.000959},{"k":"r","E":7500,"v":0.000732},{"k":"r","E":7520,"v":0.000826},{"k":"r","E":7540,"v":0.00065},{"k":"r","E":7560,"v":0.000914},{"k":"r","E":7580,"v":0.000772},{"k":"r","E":7600,"v":0.000848},{"k":"r","E":7620,"v":0.000723},{"k":"r","E":7640,"v":0.000933},{"k":"r","E":7660,"v":0.000684},{"k":"r","E":7680,"v":0.000813},{"k":"r","E":7700,"v":0.00073},{"k":"r","E":7720,"v":0.000843},{"k":"r","E":7740,"v":0.000637},{"k":"r","E":7760,"v":0.000848},{"k":"r","E":7780,"v":0.000751},{"k":"r","E":7800,"v":0.000815},{"k":"r","E":7820,"v":0.000683},{"k":"r","E":7840,"v":0.00045},{"k":"r","E":7860,"v":0.000712},{"k":"r","E":7880,"v":0.000642},{"k":"r","E":7900,"v":0.000771},{"k":"r","E":7920,"v":0.00084},{"k":"r","E":7940,"v":0.000675},{"k":"r","E":7960,"v":0.000736},{"k":"r","E":7980,"v":0.00061},{"k":"r","E":8000,"v":0.000793},{"k":"r","E":8020,"v":0.000691},{"k":"r","E":8040,"v":0.000753},{"k":"r","E":8060,"v":0.000631},{"k":"r","E":8080,"v":0.000827},{"k":"r","E":8100,"v":0.000663},{"k":"r","E":8120,"v":0.000724},{"k":"r","E":8140,"v":0.000575},{"k":"r","E":8160,"v":0.000762},{"k":"r","E":8180,"v":0.000697},{"k":"r","E":8200,"v":0.000639},{"k":"r","E":8220,"v":0.00079},{"k":"r","E":8240,"v":0.000608},{"k":"r","E":8260,"v":0.000716},{"k":"r","E":8280,"v":0.000652},{"k":"r","E":8300,"v":0.000814},{"k":"r","E":8320,"v":0.00042},{"k":"r","E":8340,"v":0.000728},{"k":"r","E":8360,"v":0.00057},{"k":"r","E":8380,"v":0.000758},{"k":"r","E":8400,"v":0.000662},{"k":"r","E":8420,"v":0.000579},{"k":"r","E":8440,"v":0.000738},{"k":"r","E":8460,"v":0.000622},{"k":"r","E":8480,"v":0.000774},{"k":"r","E":8500,"v":0.000592},{"k":"r","E":8520,"v":0.00067},{"k":"r","E":8540,"v":0.00095},{"k":"r","E":8555,"v":0.00058}
]
},
"data": {"name": "spec"},
"transform": [{"lookup": "k", "from": {"data": {"name": "names"}, "key": "k", "fields": ["series"]}}],
"layer": [
{
"mark": {"type": "line", "strokeWidth": 1, "clip": true},
"encoding": {
"x": {"field": "E", "type": "quantitative", "scale": {"domain": [0, 9000], "nice": false},
 "axis": {"orient": "bottom", "values": [0,1000,2000,3000,4000,5000,6000,7000,8000,9000], "format": "d", "grid": false, "title": "E [keV]",
  "labelFontSize": 14, "labelColor": "#262626", "labelPadding": 16, "labelFlush": false,
  "tickSize": -7, "tickColor": "#222", "domainColor": "#222",
  "titleFontSize": 15, "titleFontWeight": "normal", "titleColor": "#262626", "titleX": 369.5, "titleY": 36, "titleBaseline": "middle", "titleAnchor": null}},
"y": {"field": "v", "type": "quantitative", "scale": {"type": "log", "domain": [0.0001, 1000], "nice": false},
 "axis": {"orient": "left", "values": [0.0001,0.0002,0.0003,0.0004,0.0005,0.0006,0.0007,0.0008,0.0009,0.001,0.002,0.003,0.004,0.005,0.006,0.007,0.008,0.009,0.01,0.02,0.03,0.04,0.05,0.06,0.07,0.08,0.09,0.1,0.2,0.3,0.4,0.5,0.6,0.7,0.8,0.9,1,2,3,4,5,6,7,8,9,10,20,30,40,50,60,70,80,90,100,200,300,400,500,600,700,800,900,1000],
  "labelExpr": "datum.value == 1000 ? '10³' : datum.value == 100 ? '10²' : datum.value == 10 ? '10¹' : datum.value == 1 ? '10⁰' : datum.value == 0.1 ? '10⁻¹' : datum.value == 0.01 ? '10⁻²' : datum.value == 0.001 ? '10⁻³' : datum.value == 0.0001 ? '10⁻⁴' : ''",
  "labelOverlap": false, "labelFontSize": 14, "labelColor": "#262626", "labelPadding": 10, "labelFlush": false,
  "grid": false, "tickSize": -5, "tickColor": "#222", "domainColor": "#222",
  "title": "Count rate [cps]", "titleFontSize": 15, "titleFontWeight": "normal", "titleColor": "#262626", "titleX": -43, "titleY": 235, "titleBaseline": "middle", "titleAnchor": null}},
"color": {"field": "series", "type": "nominal",
 "scale": {"domain": ["Cf-252 37MBq @2m, 50cm BPE", "Cf-252 37MBq @2m", "Background"], "range": ["#0000ff", "#008000", "#ff0000"]},
 "legend": {"orient": "top-right", "offset": 5, "title": null, "symbolType": "M-1,0H3", "symbolSize": 361, "symbolStrokeWidth": 1,
  "labelFontSize": 15, "labelColor": "#262626", "labelOffset": 21, "labelLimit": 400, "strokeColor": "#000", "fillColor": "#fff", "padding": 7, "rowPadding": 7}}
}
},
{
"mark": {"type": "point", "opacity": 0},
"encoding": {
"x": {"field": "E", "type": "quantitative",
 "axis": {"orient": "top", "values": [0,1000,2000,3000,4000,5000,6000,7000,8000,9000], "labels": false, "title": null, "grid": false, "tickSize": -7, "tickColor": "#222", "domainColor": "#222"}},
"y": {"field": "v", "type": "quantitative",
 "axis": {"orient": "right", "values": [0.0001,0.0002,0.0003,0.0004,0.0005,0.0006,0.0007,0.0008,0.0009,0.001,0.002,0.003,0.004,0.005,0.006,0.007,0.008,0.009,0.01,0.02,0.03,0.04,0.05,0.06,0.07,0.08,0.09,0.1,0.2,0.3,0.4,0.5,0.6,0.7,0.8,0.9,1,2,3,4,5,6,7,8,9,10,20,30,40,50,60,70,80,90,100,200,300,400,500,600,700,800,900,1000], "labels": false, "title": null, "grid": false, "tickSize": -5, "tickColor": "#222", "domainColor": "#222"}}
}
}
],
"resolve": {"axis": {"x": "independent", "y": "independent"}}
}
